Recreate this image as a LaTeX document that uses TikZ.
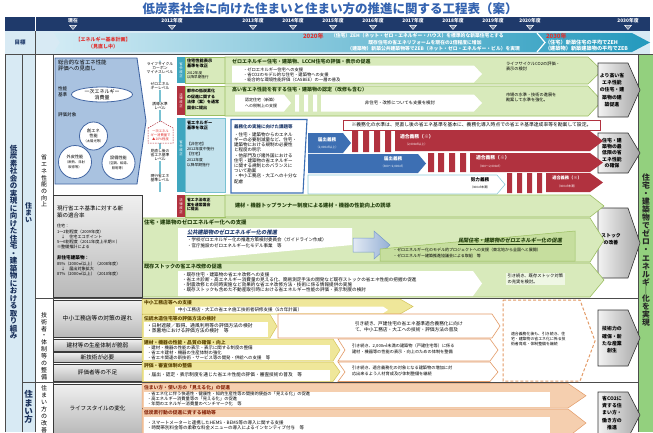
\documentclass[tikz,border=0pt]{standalone}
\usepackage{fontspec}
\setmainfont{Noto Sans CJK JP}
\newfontfamily\jpsl[FakeSlant=0.18]{Noto Sans CJK JP}
\usetikzlibrary{shapes.geometric,arrows.meta}
\definecolor{navy}{HTML}{1F3A6B}
\definecolor{colbg}{HTML}{D8EAF4}
\definecolor{titleblue}{HTML}{3463B0}
\definecolor{gfill}{HTML}{D8EABB}
\definecolor{gdraw}{HTML}{9CBF62}
\definecolor{gwedge}{HTML}{C6DE9E}
\definecolor{gtxt}{HTML}{24400E}
\definecolor{tealc}{HTML}{3FA6BF}
\definecolor{lteal}{HTML}{C4E3EE}
\definecolor{dred}{HTML}{B1323F}
\definecolor{barblue}{HTML}{3D6FB3}
\definecolor{boxblue}{HTML}{A9C2E0}
\definecolor{boxbluedraw}{HTML}{4266A3}
\definecolor{yfill}{HTML}{EFE79A}
\definecolor{ydraw}{HTML}{D4C35A}
\definecolor{ytxt}{HTML}{5A4200}
\definecolor{ofill}{HTML}{F5CFAF}
\definecolor{odraw}{HTML}{E39A66}
\definecolor{otxt}{HTML}{8A2A10}
\definecolor{rgreen}{HTML}{93D07E}
\definecolor{redtxt}{HTML}{E0312F}
\definecolor{goalL}{HTML}{D2EBF4}
\definecolor{goalM}{HTML}{86CDE0}
\definecolor{goalR}{HTML}{2399BD}
\newcommand\smtxt[1]{{\fontsize{3.3}{4}\selectfont #1}}
\newcommand\arrband[6][]{\path[#1] (#2,#3) -- (#4,#3) -- (#6,{(#3+#5)/2}) -- (#4,#5) -- (#2,#5) -- cycle;}
\tikzset{
  every node/.style={inner sep=0, outer sep=0},
  fs/.style 2 args={font=\fontsize{#1}{#2}\selectfont},
  bfs/.style 2 args={font=\bfseries\fontsize{#1}{#2}\selectfont},
  lt/.style={anchor=north west, align=left},
  lw/.style={anchor=west, align=left},
  ct/.style={align=center},
  gband/.style={fill=gfill, draw=gdraw, line width=0.6},
  yband/.style={fill=yfill, draw=ydraw, line width=0.5},
  oband/.style={fill=ofill, draw=odraw, line width=0.5},
  wbox/.style={fill=white},
  graybox/.style={top color=white!88!gray, bottom color=gray!55, draw=gray!45!black, line width=0.5},
  chev/.style={left color=white!90!gray, right color=gray!70, draw=gray!40!black, line width=0.6},
  obox/.style={fill=white, draw=odraw, line width=0.6},
  lvl/.style={fs={3.8}{4.4}, ct, fill=white, inner sep=0.4},
}
\begin{document}
\begin{tikzpicture}[x=1pt,y=-1pt]
\useasboundingbox[fill=white] (0,0) rectangle (653,432);

% ---------- title ----------
\node[bfs={12.5}{13}, text=titleblue] (title) at (330,9) {低炭素社会に向けた住まいと住まい方の推進に関する工程表（案）};

% ---------- header ----------
\fill[navy] (5,17) rectangle (650,31);
\draw[white, line width=0.6] (35,17) -- (35,31);
\foreach \x/\t [count=\i] in {73/現在,172/2012年度,253/2013年度,293/2014年度,333/2015年度,373/2016年度,413/2017年度,453/2018年度,493/2019年度,530/2020年度,628/2030年度}{
  \node[bfs={4.8}{5}, text=white] (yr\i) at (\x,21) {\t};
  \draw[white, fill=navy!60!white, line width=0.4] (\x-3.5,25.3) -- (\x+3.5,25.3) -- (\x,29.5) -- cycle;
}

% ---------- goal row ----------
\fill[colbg] (5,31) rectangle (650,54);
\draw[gray!60!black, line width=0.5] (35,31) -- (35,54);
\node[bfs={5.5}{6}, text=navy] (goal) at (20,42.5) {目標};
\path[left color=goalL, middle color=goalM, right color=goalR] (54,33) -- (632,33) -- (650,42.5) -- (632,52) -- (54,52) -- (60,42.5) -- cycle;
\draw[white, line width=1.2] (537,33) -- (545,42.5) -- (537,52);
\node[bfs={5}{6.5}, text=redtxt, ct] (kihon) at (103,43) {【エネルギー基本計画】\\（見直し中）};
\node[bfs={6}{6}, text=redtxt, lw] (y2020) at (303,36) {2020年};
\node[bfs={4.8}{5}, text=white, lw] (g1) at (331,36) {（住宅）ZEH（ネット・ゼロ・エネルギー・ハウス）を標準的な新築住宅とする};
\node[bfs={4.8}{5}, text=white] (g2) at (425,42.5) {既存住宅の省エネリフォームを現在の2倍程度に増加};
\node[bfs={4.8}{5}, text=white, anchor=east] (g3) at (520,49) {（建築物）新築公共建築物等でZEB（ネット・ゼロ・エネルギー・ビル）を実現};
\node[bfs={6}{6}, text=redtxt, lw] (y2030) at (546,36) {2030年};
\node[bfs={5.2}{6.6}, text=white, lt] (g4) at (545,39.5) {（住宅）新築住宅の平均でZEH\\（建築物）新築建築物の平均でZEB};

% ---------- left columns ----------
\fill[colbg] (5,54) rectangle (35,432);
\fill[rgreen] (638,54) rectangle (653,432);
\draw[gray!60!black, line width=0.5] (5,54) -- (653,54);
\draw[gray!60!black, line width=0.5] (5,54) -- (5,432) (22,54) -- (22,432) (35,54) -- (35,432) (53,54) -- (53,432) (638,54) -- (638,432);
\draw[gray!60!black, line width=0.5] (35,298) -- (638,298) (22,382) -- (638,382);

\node[bfs={7.5}{7.5}, ct, text=navy!85!black] (main) at (13.5,242) {低\\炭\\素\\社\\会\\の\\実\\現\\に\\向\\け\\た\\住\\宅\\・\\建\\築\\物\\に\\お\\け\\る\\取\\り\\組\\み};
\node[bfs={7}{7}, ct, text=navy!85!black] (sumai) at (28.5,213) {住\\ま\\い};
\node[bfs={8.5}{8.4}, ct, text=navy!85!black] (sumaikata) at (28.5,407) {住\\ま\\い\\方};
\node[fs={6}{6.7}, ct] (koujou) at (44,181) {省\\エ\\ネ\\性\\能\\の\\向\\上};
\node[fs={6}{6.9}, ct] (gijutsu) at (44,346) {技\\術\\者\\・\\体\\制\\等\\の\\整\\備};
\node[fs={6}{7}, ct] (kaizen) at (44,409) {住\\ま\\い\\方\\の\\改\\善};
\node[bfs={7.8}{8.1}, ct, text=black!85] (zeroene) at (646,250) {住\\宅\\・\\建\\築\\物\\で\\ゼ\\ロ\\・\\エ\\ネ\\ル\\ギ\\｜\\化\\を\\実\\現};

% ---------- evaluation box ----------
\filldraw[fill=boxblue, draw=boxbluedraw, line width=0.9] (55,58) -- (137,58) -- (146,121) -- (137,184) -- (55,184) -- cycle;
\node[fs={5.4}{6.4}, lt] (sogo) at (58,60) {総合的な省エネ性能\\評価への見直し};
\node[fs={4.6}{5.4}, lt] (seino) at (58,87) {性能\\基準};
\node[ellipse, draw=boxbluedraw, fill=white, line width=0.8, minimum width=61, minimum height=15, fs={5}{5.6}, ct] (ichiji) at (102,94.5) {一次エネルギー\\消費量};
\node[fs={4.6}{5.4}, lt] (taisho) at (58,113) {評価対象};
\node[circle, draw=boxbluedraw, fill=white, line width=0.8, minimum size=28, fs={4.2}{5}, ct] (soene) at (93.5,136) {創エネ\\性能\\\smtxt{（太陽光等）}};
\node[circle, draw=boxbluedraw, fill=white, line width=0.8, minimum size=33, fs={4.2}{5}, ct] (gaihi) at (75,162) {外皮性能\\\smtxt{（断熱、日射}\\\smtxt{取得等）}};
\node[circle, draw=boxbluedraw, fill=white, line width=0.8, minimum size=33, fs={4.2}{5}, ct] (setsubi) at (118.5,163) {設備性能\\\smtxt{（空調、給湯、}\\\smtxt{照明等）}};

% ---------- level scale ----------
\draw[tealc!70, line width=1.3, -{Stealth[length=4pt]}] (160,192) -- (160,60);
\node[lvl] (lcm) at (160,68) {ライフサイクル\\カーボン\\マイナスレベル};
\node[lvl] (zerolv) at (160,86) {ゼロエネル\\ギーレベル};
\node[lvl] (yudo) at (160,106) {誘導水準\\レベル};
\draw[dred, dash pattern=on 1.5pt off 1pt, line width=0.5, fill=white] (148,128) -- (160.5,121) -- (173,128) -- (173,143) -- (148,143) -- cycle;
\node[fs={3.3}{4}, ct, text=redtxt] (minus) at (160.5,135.5) {一次エネル\\ギー消費量で\\▲10\%程度};
\node[lvl] (minaoshi) at (160,155) {見直し後の\\省エネ基準\\レベル};
\node[lvl] (genko) at (160,178) {現行省エネ\\基準レベル};

% ---------- revision strips ----------
\fill[tealc] (177,57) rectangle (185,83);
\node[fs={3.4}{3.9}, ct, text=white] (sho1) at (181,70) {省\\令\\改\\正};
\fill[dred] (177,86) rectangle (185,115);
\node[fs={3.4}{3.9}, ct, text=white] (ho1) at (181,100.5) {法\\律\\改\\正};
\fill[tealc] (177,118) rectangle (185,192);
\node[fs={3.4}{3.9}, ct, text=white] (sho2) at (181,148) {省\\令\\改\\正};
\fill[dred] (177,195) rectangle (185,217);
\node[fs={3.4}{3.9}, ct, text=white] (ho2) at (181,206) {法\\律\\改\\正};

% ---------- label boxes ----------
\filldraw[fill=gfill, draw=gdraw, line width=0.5] (185,57) rectangle (225,83);
\node[bfs={4.2}{5}, lt] (l1) at (187,59) {住宅性能表示\\基準を改正};
\node[fs={3.6}{4.4}, lt] (l1b) at (187,71.5) {2012年度\\以降早期施行};
\filldraw[fill=gfill, draw=gdraw, line width=0.5] (185,86) rectangle (225,115);
\node[bfs={4}{5.6}, lt] (l2) at (187,89) {都市の低炭素化\\の促進に関する\\法律（案）を通常\\国会に提出};
\filldraw[fill=lteal, draw=tealc!70, line width=0.5] (185,118) rectangle (225,192);
\node[bfs={4.2}{5.2}, lt] (l3) at (187,121) {省エネルギー\\基準を改正};
\node[fs={3.8}{5.3}, lt] (l3b) at (187,142) {【非住宅】\\2012年度中施行\\【住宅】\\2012年度\\以降早期施行};
\filldraw[fill=gfill, draw=gdraw, line width=0.5] (185,195) rectangle (225,217);
\node[bfs={3.9}{4.8}, lt] (l4) at (187,198) {省エネ法改正\\案を通常国会\\に提出};

% ---------- row 1 ----------
\arrband[gband]{225}{57}{588}{84}{602}
\node[bfs={5}{5}, lw, text=gtxt] (r1h) at (232,61.5) {ゼロエネルギー住宅・建築物、LCCM住宅の評価・表示の促進};
\arrband[wbox]{232}{65.5}{474}{82.5}{482}
\node[fs={4.3}{5}, lt] (r1b) at (243,67.5) {・ゼロエネルギー住宅への支援\\・省CO2のモデル的な住宅・建築物への支援\\・総合的な環境性能評価（CASBEE）の一層の普及};
\node[fs={4.2}{5.4}, lt] (r1r) at (506,62) {ライフサイクルCO2の評価・\\表示の検討};

% ---------- row 2 ----------
\arrband[gband]{225}{86}{588}{116}{602}
\node[bfs={5}{5}, lw, text=gtxt] (r2h) at (232,90) {高い省エネ性能を有する住宅・建築物の認定（改修も含む）};
\arrband[wbox]{235}{94.5}{284}{111.5}{291}
\node[fs={4}{5.2}, ct] (r2a) at (261,103) {認定住宅（新築）\\への税制上の支援};
\fill[white] (295,94.5) rectangle (299,111.5) (304,94.5) rectangle (308,111.5) (313,94.5) rectangle (317,111.5);
\arrband[wbox]{321}{94.5}{474}{111.5}{482}
\node[fs={4.4}{5}] (r2c) at (400,103) {非住宅・改修についても支援を検討};
\node[fs={4.2}{5.4}, lt] (r2r) at (506,93) {市場の水準・技術の進展を\\勘案して水準を強化。};

% ---------- gray result chevrons ----------
\path[chev] (598,63) -- (628,63) -- (640,90) -- (628,117) -- (598,117) -- cycle;
\node[bfs={4.9}{7.2}, ct] (c1) at (612,90) {より高い省\\エネ性能\\の住宅・建\\築物の建\\築促進};
\path[chev] (598,133) -- (628,133) -- (640,153) -- (628,173) -- (598,173) -- cycle;
\node[bfs={4.9}{6.2}, ct] (c2) at (612,153) {住宅・建\\築物の最\\低限の省\\エネ性能\\の確保};
\path[chev] (598,208) -- (628,208) -- (640,243) -- (628,278) -- (598,278) -- cycle;
\node[bfs={4.9}{7.2}, ct] (c3) at (611,239) {ストック\\の改善};
\path[chev] (598,310) -- (628,310) -- (640,338) -- (628,366) -- (598,366) -- cycle;
\node[bfs={4.9}{7.4}, ct] (c4) at (612,340) {技術力の\\確保・新\\たな産業\\創生};
\path[chev] (598,392) -- (628,392) -- (640,415) -- (628,438) -- (598,438) -- cycle;
\node[bfs={4.9}{7.2}, ct] (c5) at (612,413) {省CO2に\\資する住\\まい方・\\働き方の\\推進};

% ---------- row 3 (obligation) ----------
\filldraw[fill=white, draw=barblue, line width=1.1] (231,119.5) -- (307,119.5) -- (303,193) -- (231,193) -- cycle;
\node[bfs={4.5}{5}, lt, text=navy] (kadai) at (234,124.5) {義務化の実施に向けた課題等};
\node[fs={4.5}{5.2}, lt] (kadaib) at (234,132.5) {・住宅・建築物からのエネル\\ギーの必要削減量など、住宅・\\建築物における規制の必要性\\と程度の明示\\・他部門及び諸外国における\\住宅・建築物の省エネルギー\\に関する規制とのバランスに\\ついて勘案\\・中小工務店・大工への十分な\\配慮};
\node[draw=dred, fill=white, line width=0.6, fs={4.8}{5}, minimum width=257, minimum height=10] (note) at (471.5,125) {※義務化の水準は、見直し後の省エネ基準を基本に、義務化導入時点での省エネ基準達成率等を勘案して設定。};

\arrband[fill=barblue]{308}{133}{343}{153}{351}
\node[bfs={4.6}{5}, text=white] (todoke1) at (327,139.5) {届出義務};
\node[fs={3}{3.5}, text=white] (todoke1b) at (327,147) {（2,000㎡以上）};
\fill[dred] (352,131) rectangle (358,152) (363,131) rectangle (369,152) (374,131) rectangle (380,152) (385,131) rectangle (391,152);
\arrband[fill=dred]{395}{131}{590}{151}{603}
\node[bfs={4.8}{5}, lw, text=white] (tekigo1) at (400,136.5) {適合義務（※）};
\node[fs={3}{3.5}, lw, text=white] (tekigo1b) at (405,144.5) {（2,000㎡以上）};

\arrband[fill=barblue]{308}{154}{418}{173}{426}
\node[bfs={4.6}{5}, text=white] (todoke2) at (393,159) {届出義務};
\node[fs={3}{3.5}, text=white] (todoke2b) at (393,166.5) {（300～2,000㎡）};
\fill[dred] (428,153) rectangle (434,172) (438,153) rectangle (444,172) (449,153) rectangle (455,172) (460,153) rectangle (466,172);
\arrband[fill=dred]{470}{153}{590}{172}{603}
\node[bfs={4.8}{5}, lw, text=white] (tekigo2) at (476,158) {適合義務（※）};
\node[fs={3}{3.5}, lw, text=white] (tekigo2b) at (478,166) {（300～2,000㎡）};

\arrband[fill=white, draw=tealc!60, line width=0.6]{308}{175}{497}{194}{505}
\node[bfs={4.6}{5}] (doryoku) at (480,180) {努力義務};
\node[fs={3}{3.5}] (doryokub) at (480,187.5) {（300㎡未満）};
\fill[dred] (507,173) rectangle (512,193) (517,173) rectangle (522,193) (527,173) rectangle (532,193) (537,173) rectangle (542,193);
\arrband[fill=dred]{546}{173}{590}{192}{603}
\node[bfs={4.2}{5}, text=white] (tekigo3) at (567,178) {適合義務（※）};
\node[fs={3}{3.5}, text=white] (tekigo3b) at (567,186) {（300㎡未満）};

% ---------- row 4 ----------
\arrband[gband]{225}{195}{590}{217}{604}
\node[bfs={5.2}{5.5}, lw, text=gtxt] (r4) at (235,206) {建材・機器トップランナー制度による建材・機器の性能向上の誘導};

% ---------- row 5 ----------
\arrband[gband]{142}{218}{590}{262}{604}
\node[bfs={5.4}{5.5}, lw, text=gtxt] (r5h) at (144,222.5) {住宅・建築物のゼロエネルギー化への支援};
\fill[white] (178,228) -- (352,228) -- (352,245) -- (178,261) -- cycle;
\node[font=\jpsl\bfseries\fontsize{5.3}{6}\selectfont, lw, text=navy] (pub) at (187,233) {\underline{公共建築物のゼロエネルギー化の推進}};
\node[fs={4.5}{6.3}, lt] (pubb) at (187,237.8) {・学校ゼロエネルギー化の推進方策検討委員会（ガイドライン作成）\\・官庁施設のゼロエネルギー化モデル事業　等};
\path[left color=barblue!15!white, right color=barblue!55!white, draw=barblue!70, line width=0.5] (353,238) -- (374,238) -- (374,231) -- (390,245) -- (374,259) -- (374,252) -- (353,252) -- cycle;
\filldraw[fill=gwedge, draw=gdraw, line width=0.5] (380,249) -- (575,231) -- (575,261) -- (380,261) -- cycle;
\node[font=\jpsl\bfseries\fontsize{5.2}{6}\selectfont, text=gtxt] (priv) at (510,241.5) {\underline{民間住宅・建築物のゼロエネルギー化の促進}};
\node[fs={4}{5.2}, lt] (privb) at (393,248.5) {・ゼロエネルギー化のモデル的プロジェクトへの支援（東北地から全国へと展開）\\・ゼロエネルギー建築推進協議会による取組　等};

% ---------- row 6 ----------
\arrband[gband]{142}{263}{590}{297}{604}
\node[bfs={5.2}{5.5}, lw, text=gtxt] (r6h) at (144,267) {既存ストックの省エネ改修の促進};
\arrband[wbox]{178}{271}{473}{296}{482}
\node[fs={4.6}{5.1}, lt] (r6b) at (182,272.2) {・既存住宅・建築物の省エネ改修への支援\\・省エネ診断・高エネルギー消費量の見える化、簡易測定手法の開発など既存ストックの省エネ性能の把握の促進\\・耐震改修との同時実施など効果的な省エネ改修方法・技術に係る情報提供の実施\\・既存ストックも含めた不動産取引時における省エネルギー性能の評価・表示制度の検討};
\node[fs={4.3}{5.6}, lt, fill=gfill!40!white, inner sep=1.5] (r6r) at (506,272.5) {引き続き、既存ストック対策\\の充実を検討。};

% ---------- left gray box (adoption rate) ----------
\path[graybox] (53,195) rectangle (142,297);
\node[fs={5.5}{6.5}, lt] (tekigo) at (57,206) {現行省エネ基準に対する新\\築の適合率};
\node[fs={4.1}{5.1}, lt] (tekigob) at (57,224.5) {住宅：\\1～2割程度（2009年度）\\　↓　住宅エコポイント\\5～6割程度（2011年度上半期※）\\※整備推計による};
\node[bfs={4.6}{5}, lt] (hiju) at (57,255.5) {非住宅建築物：};
\node[fs={4.1}{5.1}, lt] (hijub) at (57,261.8) {85\%（2000㎡以上）（2008年度）\\　↓　届出対象拡大\\87\%（2000㎡以上）（2010年度）};

% ---------- technical section ----------
\path[graybox] (53,300) rectangle (142,337);
\node[fs={5.8}{6}] (chusho) at (97.5,318.5) {中小工務店等の対策の遅れ};
\path[graybox] (53,339) rectangle (142,351);
\node[fs={5.6}{6}] (zaisei) at (97.5,345) {建材等の生産体制が脆弱};
\path[graybox] (53,352.5) rectangle (142,362.5);
\node[fs={5.6}{6}] (shingi) at (97.5,357.5) {新技術が必要};
\path[graybox] (53,364) rectangle (142,381);
\node[fs={5.6}{6}] (hyokasha) at (97.5,372.5) {評価者等の不足};

\arrband[yband]{142}{299}{400}{314}{413}
\node[bfs={4.8}{5}, lw, text=ytxt] (ya) at (144,303) {中小工務店等への支援};
\arrband[wbox]{175}{306.5}{383}{313.3}{388}
\node[fs={4.5}{5}, lw] (yab) at (178,310) {中小工務店・大工の省エネ施工技術者研修支援（5カ年計画）};

\arrband[yband]{142}{314.5}{270}{338}{277}
\node[bfs={4.8}{5}, lw, text=ytxt] (yb) at (144,318.5) {伝統木造住宅等の評価方法の検討};
\fill[white] (144,322) rectangle (268,336.5);
\node[fs={4.8}{5.4}, lt] (ybb) at (147,323) {・日射遮蔽／取得、通風利用等の評価方法の検討\\・蒸暑地における評価方法の検討　等};
\path[obox] (278,314) -- (492,314) -- (500,326) -- (492,338) -- (278,338) -- cycle;
\node[fs={4.7}{6}, lt] (ybr) at (355,321.5) {引き続き、戸建住宅の省エネ基準適合義務化に向け\\て、中小工務店・大工への技術・評価方法の普及};

\arrband[yband]{142}{339}{333}{361}{340}
\node[bfs={4.8}{5}, lw, text=ytxt] (yc) at (144,342.2) {建材・機器の性能・品質の確保・向上};
\fill[white] (144,345) rectangle (330,360.3);
\node[fs={4.4}{5.1}, lt] (ycb) at (147,345.3) {・建材・機器の性能の表示・表示に関する制度の整備\\・省エネ建材・機器の生産体制の強化\\・省エネ関連の新技術・サービス等の開発・供給への支援　等};
\path[obox] (338,339) -- (490,339) -- (498,350) -- (490,361) -- (338,361) -- (345,350) -- cycle;
\node[fs={4.2}{6}, lt] (ycr) at (352,343.5) {引き続き、2,000㎡未満の建築物（戸建住宅等）に係る\\建材・機器等の性能の表示・向上のための体制を整備};

\arrband[yband]{142}{362}{333}{381.5}{340}
\node[bfs={4.8}{5}, lw, text=ytxt] (yd) at (144,366) {評価・審査体制の整備};
\fill[white] (144,369.5) rectangle (330,380.5);
\node[fs={4.7}{5}, lw] (ydb) at (147,375) {・届出・認定・表示制度を通じた省エネ性能の評価・審査技術の普及　等};
\path[obox] (338,362) -- (490,362) -- (498,372) -- (490,381.5) -- (338,381.5) -- (345,372) -- cycle;
\node[fs={4.2}{6}, lt] (ydr) at (352,365.5) {引き続き、適合義務化の対象となる建築物の増加に対\\応出来るよう人材育成及び体制整備を継続};

\draw[odraw, dash pattern=on 3pt off 2pt, line width=1] (503,300) -- (580,300) -- (595,341) -- (580,381) -- (503,381) -- cycle;
\node[fs={3.9}{5}, lt] (dashtxt) at (511,332) {適合義務化後も、引き続き、住\\宅・建築物の省エネ化に係る技\\術者育成・体制整備を継続};

% ---------- living section ----------
\path[graybox] (53,384) rectangle (142,434);
\node[fs={5.6}{6}] (life) at (97.5,408) {ライフスタイルの変化};

\arrband[oband]{142}{383.5}{568}{408}{586}
\node[bfs={4.8}{5}, lw, text=otxt] (oe) at (144,387.8) {住まい方・使い方の「見える化」の促進};
\fill[white] (144,391.5) rectangle (550,407.3);
\node[fs={4.3}{5}, lt] (oeb) at (147,392.2) {・省エネ化に伴う快適性・健康性・知的生産性等の間接的便益の「見える化」の促進\\・高エネルギー消費量等の「見える化」の促進\\・年間のエネルギー消費量のベンチマーク化　等};

\arrband[oband]{142}{409}{568}{437}{586}
\node[bfs={4.8}{5}, lw, text=otxt] (of) at (144,413) {低炭素行動の促進に資する補助等};
\fill[white] (144,417) rectangle (550,437);
\node[fs={4.5}{5.3}, lt] (ofb) at (147,420.3) {・スマートメーターと連携したHEMS・BEMS等の導入に関する支援\\・時間帯別料金等の柔軟な料金メニューの導入によるインセンティブ付与　等};
\end{tikzpicture}
\end{document}
